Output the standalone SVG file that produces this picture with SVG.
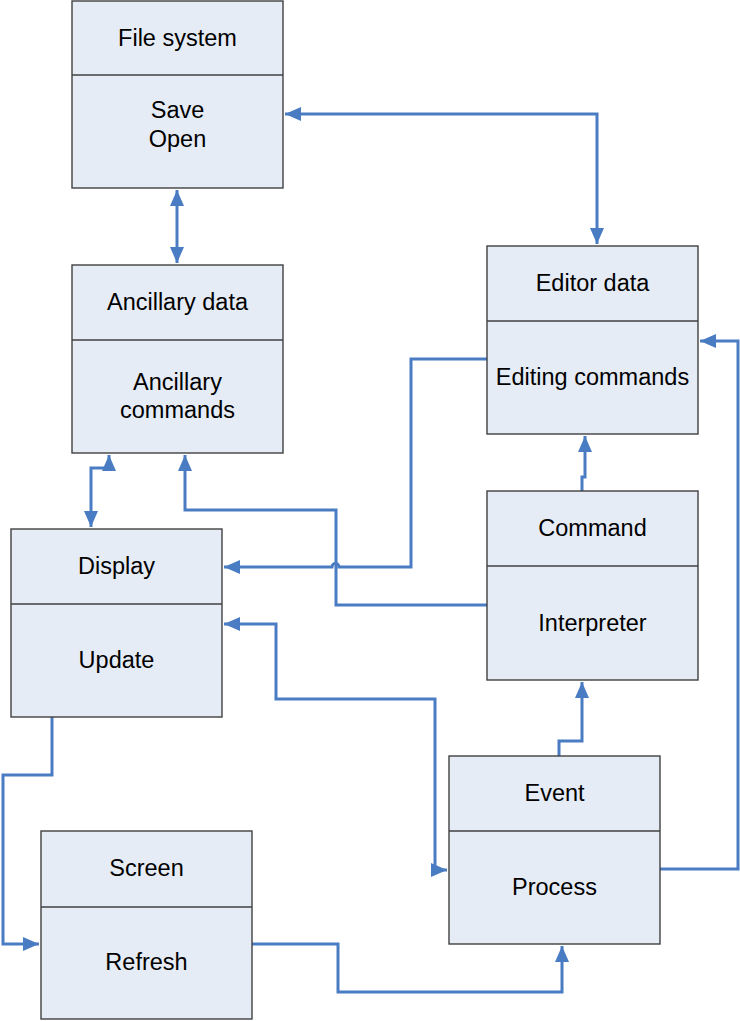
<svg xmlns="http://www.w3.org/2000/svg" width="740" height="1021" viewBox="0 0 740 1021">
<style>
.box{fill:#E6ECF6;stroke:#404040;stroke-width:1.4}
.div{stroke:#404040;stroke-width:1.4}
.t{font-family:"Liberation Sans",Arial,sans-serif;font-size:23.5px;fill:#000;text-anchor:middle}
.c{fill:none;stroke:#4A7CC3;stroke-width:3;stroke-linejoin:miter}
</style>
<defs>
<marker id="ah" markerUnits="userSpaceOnUse" markerWidth="16" markerHeight="14" viewBox="0 0 16 14" refX="16" refY="7" orient="auto-start-reverse">
<path d="M0,0 L16,7 L0,14 Z" fill="#4A7CC3"/>
</marker>
</defs>
<rect width="740" height="1021" fill="#fff"/>
<g id="connectors">
<path class="c" d="M285,114 H597 V244" marker-start="url(#ah)" marker-end="url(#ah)"/>
<path class="c" d="M177,190 V263" marker-start="url(#ah)" marker-end="url(#ah)"/>
<path class="c" d="M109,455 V468 H91 V527" marker-start="url(#ah)" marker-end="url(#ah)"/>
<path class="c" d="M487,605 H336 V510 H185 V455" marker-end="url(#ah)"/>
<path class="c" d="M487,359 H411 V567 H339 A3.5,3.5 0 0 0 332,567 H224" marker-end="url(#ah)"/>
<path class="c" d="M582,491 V477 H585 V436" marker-end="url(#ah)"/>
<path class="c" d="M559,756 V741 H582 V682" marker-end="url(#ah)"/>
<path class="c" d="M660,869 H738 V341 H700" marker-end="url(#ah)"/>
<path class="c" d="M224,624 H276 V699 H435 V870 H447" marker-start="url(#ah)" marker-end="url(#ah)"/>
<path class="c" d="M52,717 V775 H3 V944 H39" marker-end="url(#ah)"/>
<path class="c" d="M252,944 H338 V992 H562 V946" marker-end="url(#ah)"/>
</g>
<g id="file-system">
<rect class="box" x="72" y="1" width="211" height="187"/>
<line class="div" x1="72" y1="75" x2="283" y2="75"/>
<text class="t" x="177.5" y="46">File system</text>
<text class="t" x="177.5" y="118">Save</text>
<text class="t" x="177.5" y="147">Open</text>
</g>
<g id="ancillary">
<rect class="box" x="72" y="265" width="211" height="188"/>
<line class="div" x1="72" y1="340" x2="283" y2="340"/>
<text class="t" x="177.5" y="310">Ancillary data</text>
<text class="t" x="177.5" y="390">Ancillary</text>
<text class="t" x="177.5" y="418">commands</text>
</g>
<g id="editor">
<rect class="box" x="487" y="246" width="211" height="188"/>
<line class="div" x1="487" y1="321" x2="698" y2="321"/>
<text class="t" x="592.5" y="291">Editor data</text>
<text class="t" x="592.5" y="385">Editing commands</text>
</g>
<g id="command">
<rect class="box" x="487" y="491" width="211" height="189"/>
<line class="div" x1="487" y1="566" x2="698" y2="566"/>
<text class="t" x="592.5" y="536">Command</text>
<text class="t" x="592.5" y="631">Interpreter</text>
</g>
<g id="display">
<rect class="box" x="11" y="529" width="211" height="188"/>
<line class="div" x1="11" y1="604" x2="222" y2="604"/>
<text class="t" x="116.5" y="574">Display</text>
<text class="t" x="116.5" y="668">Update</text>
</g>
<g id="event">
<rect class="box" x="449" y="756" width="211" height="188"/>
<line class="div" x1="449" y1="831" x2="660" y2="831"/>
<text class="t" x="554.5" y="801">Event</text>
<text class="t" x="554.5" y="895">Process</text>
</g>
<g id="screen">
<rect class="box" x="41" y="831" width="211" height="188"/>
<line class="div" x1="41" y1="907" x2="252" y2="907"/>
<text class="t" x="146.5" y="876">Screen</text>
<text class="t" x="146.5" y="970">Refresh</text>
</g>
</svg>
